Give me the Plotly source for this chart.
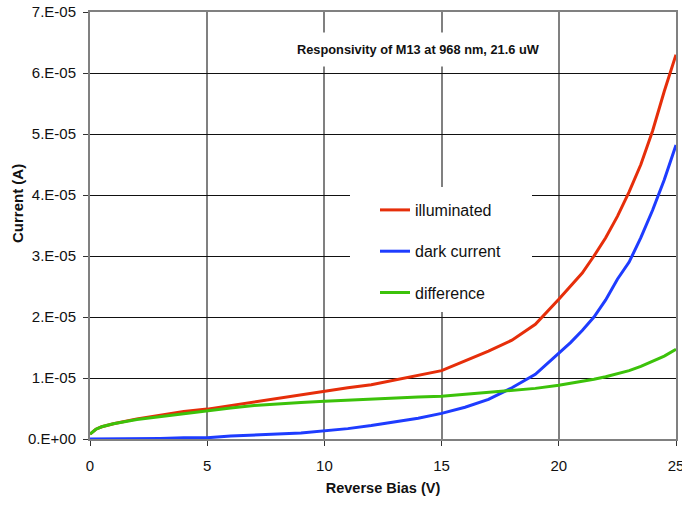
import plotly.graph_objects as go

# Reverse bias sweep (V)
bias_v = [0, 0.25, 0.5, 1, 2, 3, 4, 5, 6, 7, 8, 9, 10, 11, 12, 13, 14, 15,
          16, 17, 18, 19, 20, 20.5, 21, 21.5, 22, 22.5, 23, 23.5, 24, 24.5, 25]

# Currents in units of 1e-5 A
illuminated = [0.08, 0.16, 0.20, 0.25, 0.33, 0.39, 0.45, 0.49, 0.55, 0.60, 0.66,
               0.72, 0.785, 0.84, 0.89, 0.97, 1.04, 1.12, 1.28, 1.44, 1.62, 1.88,
               2.29, 2.50, 2.72, 3.00, 3.30, 3.65, 4.05, 4.50, 5.05, 5.70, 6.30]
dark_current = [0.0, 0.0, 0.0, 0.0, 0.0, 0.01, 0.02, 0.02, 0.05, 0.06, 0.08,
                0.10, 0.13, 0.17, 0.22, 0.28, 0.34, 0.42, 0.52, 0.65, 0.84, 1.06,
                1.40, 1.58, 1.78, 2.00, 2.28, 2.62, 2.90, 3.30, 3.75, 4.25, 4.82]
difference = [0.08, 0.16, 0.20, 0.25, 0.32, 0.37, 0.42, 0.46, 0.51, 0.55, 0.58,
              0.60, 0.62, 0.64, 0.66, 0.68, 0.69, 0.70, 0.73, 0.76, 0.79, 0.83,
              0.88, 0.91, 0.95, 0.98, 1.02, 1.07, 1.12, 1.19, 1.27, 1.36, 1.47]

x_ticks = [0, 5, 10, 15, 20, 25]
y_ticks = [0, 1e-5, 2e-5, 3e-5, 4e-5, 5e-5, 6e-5, 7e-5]
y_tick_text = ["0.E+00", "1.E-05", "2.E-05", "3.E-05", "4.E-05", "5.E-05", "6.E-05", "7.E-05"]

series = [
    ("illuminated", illuminated, "#E62E0A"),
    ("dark current", dark_current, "#1E3CFF"),
    ("difference", difference, "#3CC20A"),
]

FONT = "Liberation Sans, Arial, sans-serif"
INK = "#111111"

fig = go.Figure()
for i, (name, vals, color) in enumerate(series):
    fig.add_trace(go.Scatter(
        x=bias_v, y=[v * 1e-5 for v in vals], mode="lines", name=name,
        legendgroup=f"g{i}",
        line=dict(color=color, width=3),
    ))

fig.update_layout(
    width=682, height=510,
    margin=dict(l=90, r=6, t=12, b=71),
    paper_bgcolor="white", plot_bgcolor="white",
    font=dict(family=FONT, color=INK),
    showlegend=True,
    legend=dict(
        x=(375 - 90) / 586, y=(439 - 193) / 427, xanchor="left", yanchor="top",
        bgcolor="rgba(0,0,0,0)", borderwidth=0,
        font=dict(family=FONT, size=16, color=INK),
        tracegroupgap=17.5, itemwidth=30,
    ),
    # white backing panel behind the legend entries
    shapes=[dict(
        type="rect", xref="paper", yref="paper", layer="above",
        x0=(350 - 90) / 586, x1=(532 - 90) / 586,
        y0=(439 - 312) / 427, y1=(439 - 187) / 427,
        fillcolor="white", line=dict(width=0),
    )],
    annotations=[
        dict(text="<b>Responsivity of M13 at 968 nm, 21.6 uW</b>",
             xref="paper", yref="paper", x=(418 - 90) / 586, y=(439 - 50) / 427,
             xanchor="center", yanchor="middle", showarrow=False,
             font=dict(family=FONT, size=12.8, color=INK),
             bgcolor="white", borderpad=9),
        dict(text="<b>Current (A)</b>", xref="paper", yref="paper",
             x=-(90 - 17) / 586, y=(439 - 204) / 427, textangle=-90,
             xanchor="center", yanchor="middle", showarrow=False,
             font=dict(family=FONT, size=15, color=INK)),
    ],
)

fig.update_xaxes(
    range=[0, 25], tickvals=x_ticks, ticktext=[str(t) for t in x_ticks],
    automargin=False,
    showgrid=True, gridcolor="#808080", gridwidth=1.5,
    showline=True, linecolor="#808080", linewidth=2, mirror=True,
    ticks="outside", ticklen=5, tickcolor="#333333", tickwidth=1,
    ticklabelstandoff=7, ticklabeloverflow="allow",
    tickfont=dict(family=FONT, size=15, color=INK),
    zeroline=False,
    title=dict(text="<b>Reverse Bias (V)</b>", standoff=10,
               font=dict(family=FONT, size=14.5, color=INK)),
)
fig.update_yaxes(
    range=[0, 7e-5], tickvals=y_ticks, ticktext=y_tick_text,
    automargin=False,
    showgrid=True, gridcolor="#111111", gridwidth=1.2,
    showline=True, linecolor="#808080", linewidth=2, mirror=True,
    ticks="outside", ticklen=5, tickcolor="#333333", tickwidth=1,
    ticklabelstandoff=4,
    tickfont=dict(family=FONT, size=15, color=INK),
    zeroline=False,
)

fig.write_html("out.html")
